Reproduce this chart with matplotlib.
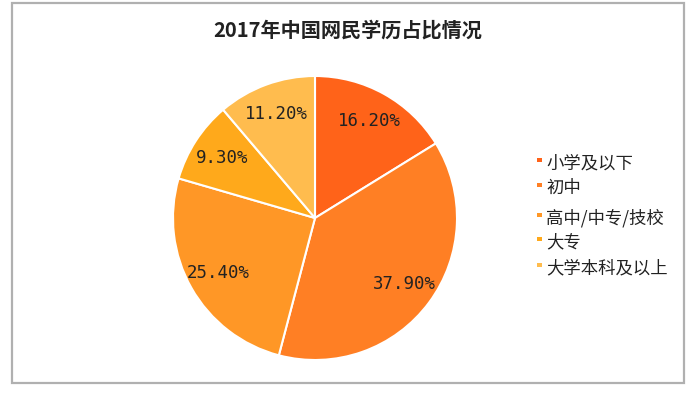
import matplotlib
matplotlib.use("Agg")
import matplotlib.pyplot as plt
from matplotlib.patches import Rectangle
import numpy as np

plt.rcParams['font.family'] = ['Noto Sans CJK SC', 'DejaVu Sans']

categories = ["小学及以下", "初中", "高中/中专/技校", "大专", "大学本科及以上"]
values = [16.2, 37.9, 25.4, 9.3, 11.2]
labels = ["16.20%", "37.90%", "25.40%", "9.30%", "11.20%"]
colors = ["#FF6319", "#FF7F24", "#FF9726", "#FFA91B", "#FFBC4E"]
title = "2017年中国网民学历占比情况"

W, H = 691, 394
fig = plt.figure(figsize=(W/100, H/100), dpi=100)
fig.patch.set_facecolor("white")

# border frame
fig.add_artist(Rectangle((12/W, 1-383/H), (684-12)/W, (383-3)/H,
                         transform=fig.transFigure, fill=False,
                         edgecolor="#B0B0B0", linewidth=1.6))

cx, cy, r = 315, 218, 142
ax = fig.add_axes([(cx-r)/W, (H-cy-r)/H, 2*r/W, 2*r/H])
wedges, _ = ax.pie(values, colors=colors, startangle=90, counterclock=False,
                   wedgeprops=dict(edgecolor="white", linewidth=1.5))
for w, lab in zip(wedges, labels):
    ang = np.deg2rad((w.theta1 + w.theta2) / 2)
    rr = 0.78
    ax.text(rr*np.cos(ang), rr*np.sin(ang), lab, ha="center", va="center",
            fontsize=12.5, family=["DejaVu Sans Mono"], color="#222222")
ax.set_xlim(-1, 1)
ax.set_ylim(-1, 1)
ax.set_aspect("equal")

fig.text(348/W, 1-30/H, title, ha="center", va="center",
         fontsize=14.5, fontweight="bold", color="#222222")

legend_y = [163, 188, 218, 242, 268]
for cat, col, y in zip(categories, colors, legend_y):
    fig.add_artist(Rectangle((537/W, 1-(y-1)/H), 4.5/W, 4.5/H,
                             transform=fig.transFigure, facecolor=col, edgecolor="none"))
    fig.text(546/W, 1-y/H, cat, ha="left", va="center", fontsize=12.5, color="#222222")

fig.savefig("out.png", dpi=100)
